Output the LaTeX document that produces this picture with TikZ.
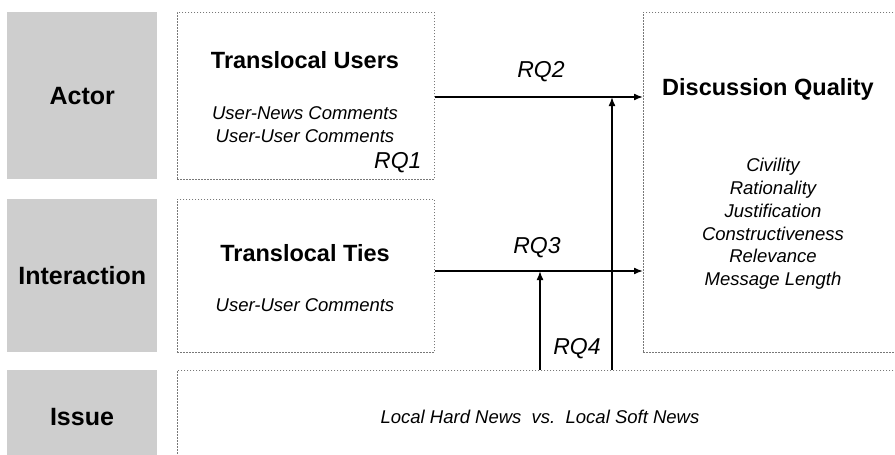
\documentclass[tikz,border=0pt]{standalone}
\usepackage{fontspec}
\setmainfont{Liberation Sans}
\usetikzlibrary{arrows.meta, positioning, calc}
\definecolor{labelgray}{RGB}{206,206,206}
\definecolor{framegray}{RGB}{120,120,120}
\tikzset{
  catbox/.style={fill=labelgray, minimum width=150pt, anchor=north west, inner sep=0pt, font=\fontsize{25}{30}\selectfont\bfseries},
  framebox/.style={draw=framegray, dash pattern=on 1.6pt off 1.4pt, line width=0.8pt, anchor=north west, inner sep=0pt},
  title/.style={font=\fontsize{23.5}{28}\selectfont\bfseries},
  detail/.style={font=\fontsize{18.5}{22.8}\selectfont\itshape, align=center},
  rqlabel/.style={font=\fontsize{23}{28}\selectfont\itshape},
  link/.style={-{Latex[length=9pt,width=7pt]}, line width=1.6pt},
}

\begin{document}
\begin{tikzpicture}[x=1pt, y=-1pt]
  \useasboundingbox (0,0) rectangle (895,455);
  \clip (0,0) rectangle (895,455);

  % category column
  \node[catbox, minimum height=167pt] (actor) at (7,12) {Actor};
  \node[catbox, minimum height=153pt] (interaction) at (7,199) {Interaction};
  \node[catbox, minimum height=100pt] (issuelabel) at (7,370) {};
  \node[font=\fontsize{25}{30}\selectfont\bfseries] (issuetext) at (82,417) {Issue};

  % dotted frames
  \node[framebox, minimum width=257pt, minimum height=167pt] (users) at (177,12) {};
  \node[framebox, minimum width=257pt, minimum height=153pt] (ties) at (177,199) {};
  \node[framebox, minimum width=270pt, minimum height=340pt] (quality) at (643,12) {};
  \node[framebox, minimum width=740pt, minimum height=100pt] (issue) at (177,370) {};

  % frame contents
  \node[title] (userstitle) at (305,60) {Translocal Users};
  \node[detail] (userslist) at (305,125) {User-News Comments\\User-User Comments};
  \node[rqlabel, anchor=east] (rq1) at (425,163) {RQ1};
  \node[title] (tiestitle) at (305,253) {Translocal Ties};
  \node[detail] (tieslist) at (305,305) {User-User Comments};
  \node[title] (qualitytitle) at (768,89) {Discussion Quality};
  \node[detail] (qualitylist) at (773,224) {Civility\\Rationality\\Justification\\Constructiveness\\Relevance\\Message Length};
  \node[detail] (issuelist) at (540,417) {Local Hard News\ \ vs.\ \ Local Soft News};

  % paths
  \coordinate (j2) at (612,97);
  \coordinate (j3) at (540,271);
  \draw[link] (users.east |- j2) -- (quality.west |- j2);
  \draw[link] (ties.east |- j3) -- (quality.west |- j3);
  \draw[link] (issue.north -| j2) -- (j2);
  \draw[link] (issue.north -| j3) -- (j3);
  \node[rqlabel] (rq2) at (541,72) {RQ2};
  \node[rqlabel] (rq3) at (537,248) {RQ3};
  \node[rqlabel] (rq4) at (577,349) {RQ4};
\end{tikzpicture}
\end{document}
